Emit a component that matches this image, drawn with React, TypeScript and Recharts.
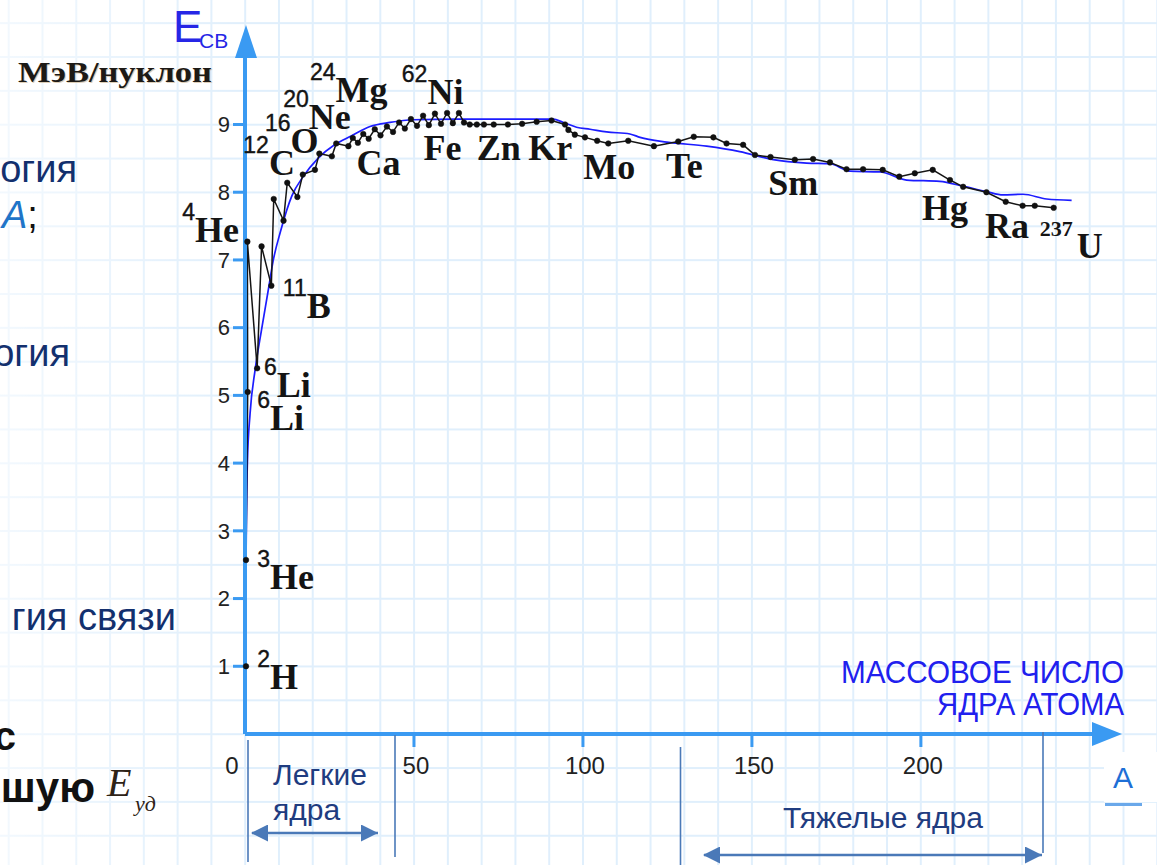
import { LineChart, Line, XAxis, YAxis, ReferenceDot } from "recharts";

// experimental points (mass number A, binding energy per nucleon, MeV)
const expA = [
  0.3, 0.3, 0.8, 0.7, 3.6, 4.9, 7.8, 8.5, 11.4, 12.5, 15.5, 17.1, 20.7, 22.0, 25.7, 27.0, 30.6,
  31.9, 33.4, 35.0, 36.6, 38.4, 40.1, 42.0, 43.8, 45.6, 47.3, 49.1, 50.9, 52.7, 54.4, 56.2, 58.0, 59.8, 61.5, 63.3, 64.8,
  66.5, 68.6, 70.7, 73.6, 77.8, 82.0, 86.3, 90.7,
  94.7, 95.7, 97.6, 100.6, 104.2, 107.5, 113.4, 121.0, 128.2, 132.8, 138.6, 142.5, 147.4, 150.9, 155.5,
  162.7, 168.1, 173.1, 178.0, 182.9, 188.7, 193.6, 198.2, 203.5, 208.6, 212.5, 219.4, 225.1, 230.1, 233.7, 239.3,
];
const expE = [
  1.0, 2.57, 5.05, 7.27, 5.4, 7.2, 6.62, 7.9, 7.58, 8.14, 7.93, 8.26, 8.33, 8.57, 8.53, 8.72, 8.68,
  8.8, 8.73, 8.86, 8.79, 8.93, 8.84, 8.97, 8.89, 9.03, 8.94, 9.08, 8.98, 9.13, 8.99, 9.16, 9.01, 9.17, 9.02, 9.17, 9.03,
  9.0, 9.0, 9.0, 9.0, 9.0, 9.01, 9.04, 9.06,
  9.0, 8.92, 8.85, 8.81, 8.76, 8.72, 8.76, 8.68, 8.75, 8.82, 8.81, 8.72, 8.7, 8.55, 8.52,
  8.48, 8.49, 8.44, 8.34, 8.34, 8.33, 8.23, 8.28, 8.33, 8.18, 8.08, 8.0, 7.86, 7.8, 7.8, 7.77,
];

// smooth (formula) curve
const fitA = [
  0.1, 0.3, 0.7, 1.5, 3.0, 4.9, 6.9, 8.3, 10.5, 13.9, 17.2, 21.6, 26.5, 31.4, 37.0, 42.9, 49.8, 62.6, 91.2, 94.2,
  98.1, 102.1, 107.0, 113.9, 116.9, 124.8, 136.6, 146.4, 156.3, 166.2, 173.1, 179.0, 187.9, 195.8, 205.6, 212.4,
  219.4, 224.3, 230.2, 237.2, 244.6,
];
const fitE = [
  0.9, 2.5, 4.0, 4.73, 5.38, 5.97, 6.56, 6.98, 7.42, 7.95, 8.23, 8.5, 8.7, 8.83, 8.97, 9.03, 9.07, 9.08, 9.08, 9.03,
  8.96, 8.93, 8.89, 8.86, 8.81, 8.74, 8.68, 8.6, 8.48, 8.43, 8.42, 8.31, 8.3, 8.18, 8.16, 8.09,
  8.01, 7.96, 7.97, 7.9, 7.88,
];

// nuclide labels
const labelMass = ["24", "62", "20", "16", "12", "", "", "", "", "", "", "", "", "", "237", "4", "11", "6", "6", "3", "2"];
const labelSym = ["Mg", "Ni", "Ne", "O", "C", "Ca", "Fe", "Zn", "Kr", "Mo", "Te", "Sm", "Hg", "Ra", "U", "He", "B", "Li", "Li", "He", "H"];
const labelA = [19.2, 46.4, 11.3, 5.9, -0.5, 33.0, 52.8, 68.6, 83.8, 100.1, 124.6, 154.8, 200.3, 219.0, 235.2, -18.6, 11.2, 5.6, 3.6, 3.6, 3.6];
const labelE = [9.33, 9.31, 8.94, 8.58, 8.25, 8.25, 8.48, 8.48, 8.48, 8.2, 8.21, 7.96, 7.59, 7.32, 7.03, 7.27, 6.14, 4.98, 4.49, 2.14, 0.66];

const xTicks = [0, 50, 100, 150, 200];
const yTicks = [1, 2, 3, 4, 5, 6, 7, 8, 9];

const SANS = "'Liberation Sans', Arial, sans-serif";
const SERIF = "'Liberation Serif', 'Times New Roman', serif";
const AXIS = "#3a9af2";
const NAVY = "#13306e";
const BRACKET = "#4a79b8";

const expData = expA.map((a, i) => ({ a, e: expE[i] }));
const fitData = fitA.map((a, i) => ({ a, e: fitE[i] }));
const labels = labelSym.map((sym, i) => ({ sym, mass: labelMass[i], a: labelA[i], e: labelE[i] }));

function NuclideLabel({ cx, cy, mass, sym }: any) {
  const serifMass = mass.length > 2;
  return (
    <text x={cx} y={cy} fill="#141414">
      {mass && (
        <tspan
          dy={-22}
          fontFamily={serifMass ? SERIF : SANS}
          fontWeight={serifMass ? 700 : 400}
          fontSize={serifMass ? 22 : 23}
          stroke="#141414"
          strokeWidth={serifMass ? 0 : 0.4}
        >
          {mass}
        </tspan>
      )}
      <tspan dy={mass ? 22 : 0} dx={serifMass ? 4 : 0} fontFamily={SERIF} fontWeight={700} fontSize={36}>
        {sym}
      </tspan>
    </text>
  );
}

function XTick({ x, y, payload }: any) {
  const v = payload.value;
  return (
    <g>
      {v !== 0 && <line x1={x} x2={x} y1={y} y2={y + 13} stroke={AXIS} strokeWidth={3} />}
      <text x={v === 0 ? x - 13 : x + 2} y={y + 23} dy="0.71em" textAnchor="middle" fontFamily={SANS} fontSize={24} fill="#222">
        {v}
      </text>
    </g>
  );
}

export default function App() {
  return (
    <div style={{ position: "absolute", left: 0, top: 0, width: 1157, height: 865, background: "#fff", overflow: "hidden" }}>
      {/* background grid */}
      <div
        style={{
          position: "absolute",
          left: 0,
          top: 0,
          width: 1157,
          height: 865,
          backgroundImage:
            "linear-gradient(to right, #e0effc 1.5px, transparent 1.5px), linear-gradient(to bottom, #e0effc 1.5px, transparent 1.5px)",
          backgroundSize: "33.794px 33.86px",
          backgroundPosition: "244.2px 733.2px",
        }}
      />
      <div
        style={{
          position: "absolute",
          left: 0,
          top: 0,
          width: 240,
          height: 865,
          background: "linear-gradient(to right, rgba(255,255,255,0.6), rgba(255,255,255,0))",
        }}
      />
      <div style={{ position: "absolute", left: 0, top: 0 }}>
        <LineChart width={1157} height={865} margin={{ top: 50, right: 57, bottom: 101, left: 185 }}>
          <XAxis
            type="number"
            dataKey="a"
            domain={[0, 253]}
            ticks={xTicks}
            height={30}
            axisLine={{ stroke: AXIS, strokeWidth: 4 }}
            tickLine={false}
            tickSize={0}
            tickMargin={0}
            tick={<XTick />}
          />
          <YAxis
            type="number"
            domain={[0, 10.1]}
            ticks={yTicks}
            width={60}
            axisLine={{ stroke: AXIS, strokeWidth: 4 }}
            tickLine={{ stroke: AXIS, strokeWidth: 3 }}
            tickSize={12}
            tickMargin={3}
            tick={{ fontFamily: SANS, fontSize: 22, fill: "#222" }}
          />
          <Line
            data={fitData}
            dataKey="e"
            type="monotone"
            stroke="#1c1cff"
            strokeWidth={1.7}
            dot={false}
            isAnimationActive={false}
          />
          <Line
            data={expData}
            dataKey="e"
            type="linear"
            stroke="#151515"
            strokeWidth={1.5}
            dot={{ r: 2.8, fill: "#111", stroke: "#111", strokeWidth: 0.5 }}
            isAnimationActive={false}
          />
          {labels.map((l, i) => (
            <ReferenceDot
              key={i}
              x={l.a}
              y={l.e}
              r={0}
              ifOverflow="visible"
              shape={(p: any) => <NuclideLabel cx={p.cx} cy={p.cy} mass={l.mass} sym={l.sym} />}
            />
          ))}
        </LineChart>
      </div>

      <svg width={1157} height={865} style={{ position: "absolute", left: 0, top: 0, pointerEvents: "none" }}>
        <defs>
          <marker id="arrL" markerWidth="18" markerHeight="18" refX="1" refY="8.5" orient="auto" markerUnits="userSpaceOnUse">
            <path d="M17,0 L0,8.5 L17,17 Z" fill={BRACKET} />
          </marker>
          <marker id="arrR" markerWidth="18" markerHeight="18" refX="17" refY="8.5" orient="auto" markerUnits="userSpaceOnUse">
            <path d="M0,0 L17,8.5 L0,17 Z" fill={BRACKET} />
          </marker>
        </defs>

        {/* axis arrow heads */}
        <polygon points="246,25 235,58 257,58" fill={AXIS} />
        <polygon points="1122,734 1092,722 1092,746" fill={AXIS} />

        {/* axis titles */}
        <text x={173} y={42} fontFamily={SANS} fontSize={44} fill="#2626e6">Е</text>
        <text x={199} y={48} fontFamily={SANS} fontSize={21} fill="#2626e6">СВ</text>
        <text x={19} y={83} fontFamily={SERIF} fontWeight={700} fontSize={30} fill="#c9b089" opacity={0.6} textLength={194} lengthAdjust="spacingAndGlyphs">МэВ/нуклон</text>
        <text x={18} y={82} fontFamily={SERIF} fontWeight={700} fontSize={30} fill="#1d1a16" textLength={194} lengthAdjust="spacingAndGlyphs">МэВ/нуклон</text>
        <text x={1124} y={683} textAnchor="end" fontFamily={SANS} fontSize={31} fill="#2020ee" textLength={283} lengthAdjust="spacingAndGlyphs">МАССОВОЕ ЧИСЛО</text>
        <text x={1124} y={715} textAnchor="end" fontFamily={SANS} fontSize={31} fill="#2020ee" textLength={187} lengthAdjust="spacingAndGlyphs">ЯДРА АТОМА</text>
        <rect x={1104} y={752} width={53} height={50} fill="#fff" />
        <rect x={1105} y={803} width={37} height={3} fill="#6aa8ea" />
        <text x={1113} y={788} fontFamily={SANS} fontSize={30} fill="#1e6fd6">A</text>

        {/* slide text fragments on the left */}
        <text x={77} y={182} textAnchor="end" fontFamily={SANS} fontSize={38} fill={NAVY}>огия</text>
        <text x={2} y={228} fontFamily={SANS} fontSize={38}>
          <tspan fill="#1f74c8" fontStyle="italic">A</tspan>
          <tspan fill="#111">;</tspan>
        </text>
        <text x={70} y={366} textAnchor="end" fontFamily={SANS} fontSize={38} fill={NAVY}>огия</text>
        <text x={176} y={630} textAnchor="end" fontFamily={SANS} fontSize={38} fill={NAVY}>гия связи</text>
        <text x={16} y={750} textAnchor="end" fontFamily={SANS} fontWeight={700} fontSize={40} fill="#111">с</text>
        <text x={95} y={802} textAnchor="end" fontFamily={SANS} fontWeight={700} fontSize={42} fill="#111">шую</text>
        <text x={107} y={796} fontFamily={SERIF} fontStyle="italic" fontSize={40} fill="#2e2216">E</text>
        <text x={135} y={811} fontFamily={SERIF} fontStyle="italic" fontSize={22} fill="#2e2216">уд</text>

        {/* light / heavy nuclei brackets */}
        <line x1={248} y1={740} x2={248} y2={862} stroke={BRACKET} strokeWidth={1.6} />
        <line x1={395} y1={735} x2={395} y2={857} stroke={BRACKET} strokeWidth={1.6} />
        <line x1={252} y1={833} x2={378} y2={833} stroke={BRACKET} strokeWidth={2.5} markerStart="url(#arrL)" markerEnd="url(#arrR)" />
        <text x={273} y={785} fontFamily={SANS} fontSize={30} fill="#1f3c80">Легкие</text>
        <text x={273} y={820} fontFamily={SANS} fontSize={30} fill="#1f3c80">ядра</text>

        <line x1={680.5} y1={747} x2={680.5} y2={865} stroke={BRACKET} strokeWidth={1.6} />
        <line x1={1043} y1={732} x2={1043} y2={853} stroke={BRACKET} strokeWidth={1.6} />
        <line x1={704} y1={855} x2={1042} y2={855} stroke={BRACKET} strokeWidth={2.5} markerStart="url(#arrL)" markerEnd="url(#arrR)" />
        <text x={783} y={828} fontFamily={SANS} fontSize={30} fill="#1f3c80">Тяжелые ядра</text>
      </svg>
    </div>
  );
}
